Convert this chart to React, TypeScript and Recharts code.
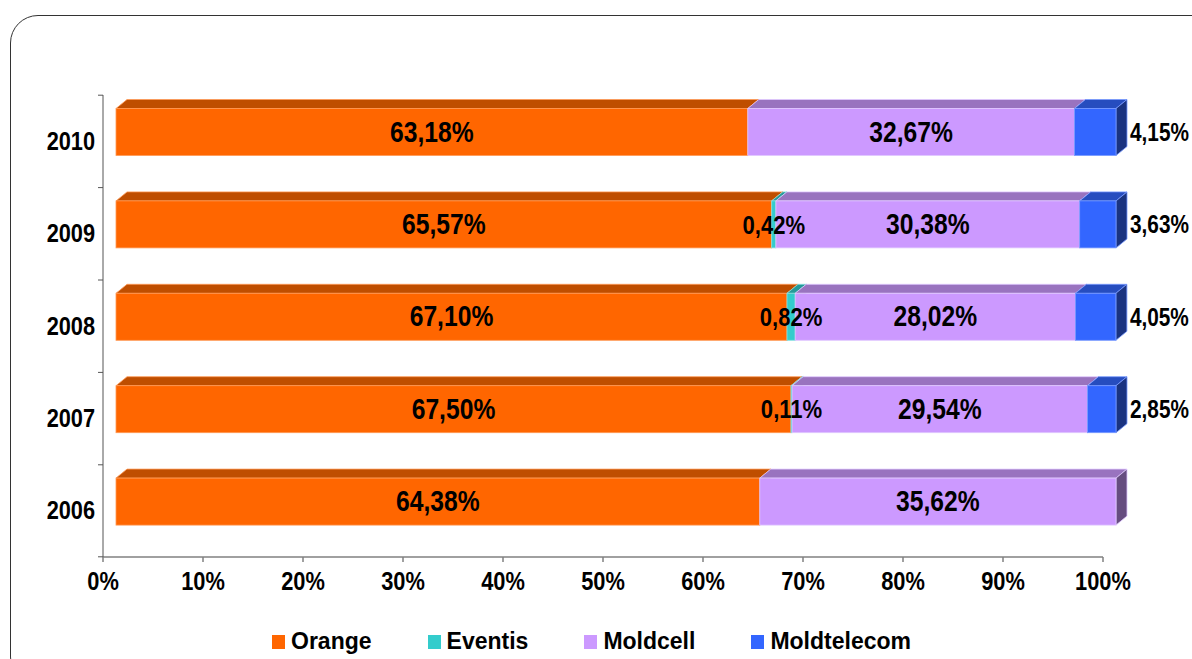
import React from 'react';
import { BarChart, Bar, XAxis, YAxis, Legend, LabelList } from 'recharts';

const years = ['2010', '2009', '2008', '2007', '2006'];
const orangeShare = [63.18, 65.57, 67.1, 67.5, 64.38];
const eventisShare = [0, 0.42, 0.82, 0.11, 0];
const moldcellShare = [32.67, 30.38, 28.02, 29.54, 35.62];
const moldtelecomShare = [4.15, 3.63, 4.05, 2.85, 0];
const xTicks = [0, 10, 20, 30, 40, 50, 60, 70, 80, 90, 100];

const series = [
  { key: 'Orange', front: '#FF6600', top: '#BF4E00', side: '#8A3900', edge: '#FF9955' },
  { key: 'Eventis', front: '#33CCCC', top: '#269999', side: '#1A6666', edge: '#88E0E0' },
  { key: 'Moldcell', front: '#CC99FF', top: '#9973BF', side: '#664D80', edge: '#E0C8FF' },
  { key: 'Moldtelecom', front: '#3366FF', top: '#264DBF', side: '#1A3380', edge: '#7799FF' },
];
const seriesOrder = series.map((s) => s.key);

const data = years.map((y, i) => ({
  year: y,
  Orange: orangeShare[i],
  Eventis: eventisShare[i],
  Moldcell: moldcellShare[i],
  Moldtelecom: moldtelecomShare[i],
}));

const FONT = "'Liberation Sans', Arial, sans-serif";

// 3d look: front face shifted against the axis, plus a top and a side face
const SHIFT_X = 13;
const SHIFT_Y = -9.5;
const DEPTH_X = 11;
const DEPTH_Y = 9;
const BAND = 92;

const fmt = (v: number) => v.toFixed(2).replace('.', ',') + '%';

// no narrow font installed, so squeeze bold text horizontally
const Narrow = ({ x, y, size, sx, anchor, baseline, children }: any) => (
  <text
    transform={`translate(${x},${y}) scale(${sx},1)`}
    textAnchor={anchor}
    dominantBaseline={baseline}
    fontFamily={FONT}
    fontWeight="bold"
    fontSize={size}
    fill="#000"
  >
    {children}
  </text>
);

const make3DBar = (s: typeof series[number]) => (props: any) => {
  const { x, y, width, height } = props;
  if (!width || width <= 0.01) return <g />;
  const fx = x + SHIFT_X;
  const fy = y + SHIFT_Y;
  const x2 = fx + width;
  const y2 = fy + height;
  return (
    <g>
      <polygon
        points={`${fx},${fy} ${fx + DEPTH_X},${fy - DEPTH_Y} ${x2 + DEPTH_X},${fy - DEPTH_Y} ${x2},${fy}`}
        fill={s.top}
        stroke={s.edge}
        strokeWidth={0.8}
      />
      <polygon
        points={`${x2},${fy} ${x2 + DEPTH_X},${fy - DEPTH_Y} ${x2 + DEPTH_X},${y2 - DEPTH_Y} ${x2},${y2}`}
        fill={s.side}
        stroke={s.edge}
        strokeWidth={0.8}
      />
      <rect x={fx} y={fy} width={width} height={height} fill={s.front} stroke={s.edge} strokeWidth={0.8} />
    </g>
  );
};

const centerLabel = (size: number) => (props: any) => {
  const { x, y, width, height, value } = props;
  if (!value) return null;
  return (
    <Narrow x={x + SHIFT_X + width / 2} y={y + SHIFT_Y + height / 2} size={size} sx={0.85} anchor="middle" baseline="central">
      {fmt(value)}
    </Narrow>
  );
};

const outsideLabel = (props: any) => {
  const { x, y, width, height, value } = props;
  if (!value) return null;
  return (
    <Narrow x={x + SHIFT_X + width + DEPTH_X + 3} y={y + SHIFT_Y + height / 2} size={26} sx={0.8} anchor="start" baseline="central">
      {fmt(value)}
    </Narrow>
  );
};

const YearTick = (props: any) => {
  const { x, y, payload, index } = props;
  const ax = x + 8;
  return (
    <g>
      <line x1={ax - 5} y1={y - BAND / 2} x2={ax} y2={y - BAND / 2} stroke="#555" />
      {index === years.length - 1 && (
        <line x1={ax - 5} y1={y + BAND / 2} x2={ax} y2={y + BAND / 2} stroke="#555" />
      )}
      <Narrow x={ax - 8} y={y} size={25} sx={0.87} anchor="end" baseline="central">
        {payload.value}
      </Narrow>
    </g>
  );
};

const PctTick = (props: any) => {
  const { x, y, payload } = props;
  return (
    <Narrow x={x} y={y + 26} size={26} sx={0.84} anchor="middle" baseline="auto">
      {payload.value}%
    </Narrow>
  );
};

const LegendBox = (props: any) => {
  const items = [...(props.payload || [])].sort(
    (a: any, b: any) => seriesOrder.indexOf(a.value) - seriesOrder.indexOf(b.value),
  );
  return (
    <div style={{ display: 'flex', justifyContent: 'center', gap: 56, fontFamily: FONT, fontWeight: 'bold', fontSize: 23, paddingRight: 9 }}>
      {items.map((p: any) => (
        <span key={p.value} style={{ display: 'flex', alignItems: 'center' }}>
          <span style={{ width: 13, height: 14, background: p.color, marginRight: 6, display: 'inline-block' }} />
          <span>{p.value}</span>
        </span>
      ))}
    </div>
  );
};

export default function App() {
  return (
    <div style={{ position: 'absolute', left: 0, top: 0, width: 1192, height: 659, overflow: 'hidden', background: '#fff' }}>
      <div
        style={{
          position: 'absolute',
          left: 10,
          top: 15,
          width: 1230,
          height: 670,
          border: '1.5px solid #333',
          borderRadius: 28,
          boxSizing: 'border-box',
        }}
      />
      <BarChart
        width={1192}
        height={659}
        data={data}
        layout="vertical"
        margin={{ top: 95, right: 89, left: 13, bottom: 30 }}
        barSize={47}
        style={{ position: 'absolute', left: 0, top: 0 }}
      >
        <XAxis
          type="number"
          domain={[0, 100]}
          ticks={xTicks}
          interval={0}
          height={45}
          stroke="#808080"
          strokeWidth={1.5}
          tickSize={5}
          tick={<PctTick />}
        />
        <YAxis
          type="category"
          dataKey="year"
          width={90}
          stroke="#555"
          tickLine={false}
          tick={<YearTick />}
        />
        <Legend
          verticalAlign="bottom"
          content={<LegendBox />}
          wrapperStyle={{ left: 0, width: 1192, bottom: 4 }}
        />
        {series.map((s) => (
          <Bar
            key={s.key}
            dataKey={s.key}
            stackId="share"
            fill={s.front}
            shape={make3DBar(s)}
            isAnimationActive={false}
          >
            <LabelList
              dataKey={s.key}
              content={s.key === 'Moldtelecom' ? outsideLabel : centerLabel(s.key === 'Eventis' ? 26 : 29)}
            />
          </Bar>
        ))}
      </BarChart>
    </div>
  );
}
